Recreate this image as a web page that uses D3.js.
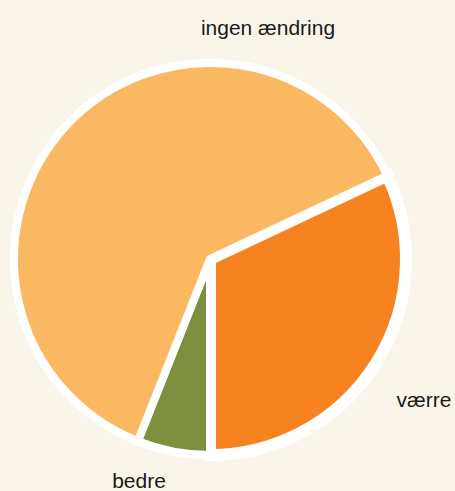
<!DOCTYPE html>
<html>
<head>
<meta charset="utf-8">
<script src="https://d3js.org/d3.v7.min.js"></script>
<style>
  html, body { margin: 0; padding: 0; background: #f9f5eb; }
  svg { display: block; }
</style>
</head>
<body>
<script>
// data
var categories = ["værre", "bedre", "ingen ændring"];
var values = [32, 6, 62];
var colors = ["#f68320", "#7e8f40", "#fbb862"];

var width = 455, height = 491;
var cx = 210, cy = 259;
var radius = 196;

var svg = d3.select("body")
    .append("svg")
    .attr("width", width)
    .attr("height", height);

var g = svg.append("g")
    .attr("transform", "translate(" + cx + "," + cy + ")");

// white disc behind the pie
g.append("circle")
    .attr("r", 200)
    .attr("fill", "#fff");

var start = Math.PI - 2 * Math.PI * values[0] / d3.sum(values);

var pie = d3.pie()
    .sort(null)
    .value(d => d)
    .startAngle(start)
    .endAngle(start + 2 * Math.PI);

var arcs = pie(values);
var arc = d3.arc().innerRadius(0).outerRadius(radius);

g.selectAll("path")
    .data(arcs)
    .enter()
    .append("path")
    .attr("d", arc)
    .attr("fill", (d, i) => colors[i])
    .attr("stroke", "#fff")
    .attr("stroke-width", (d, i) => i === 0 ? 12 : 8)
    .attr("stroke-linejoin", "miter");

// labels (placed by hand, offsets from the centre)
var labelPos = [[214, 148], [-71, 229], [58, -224]];

g.selectAll("text")
    .data(categories)
    .enter()
    .append("text")
    .attr("x", (d, i) => labelPos[i][0])
    .attr("y", (d, i) => labelPos[i][1])
    .attr("text-anchor", "middle")
    .style("font-family", "'Liberation Sans', Arial, sans-serif")
    .style("font-size", "21px")
    .style("fill", "#1a1a1a")
    .text(d => d);
</script>
</body>
</html>
